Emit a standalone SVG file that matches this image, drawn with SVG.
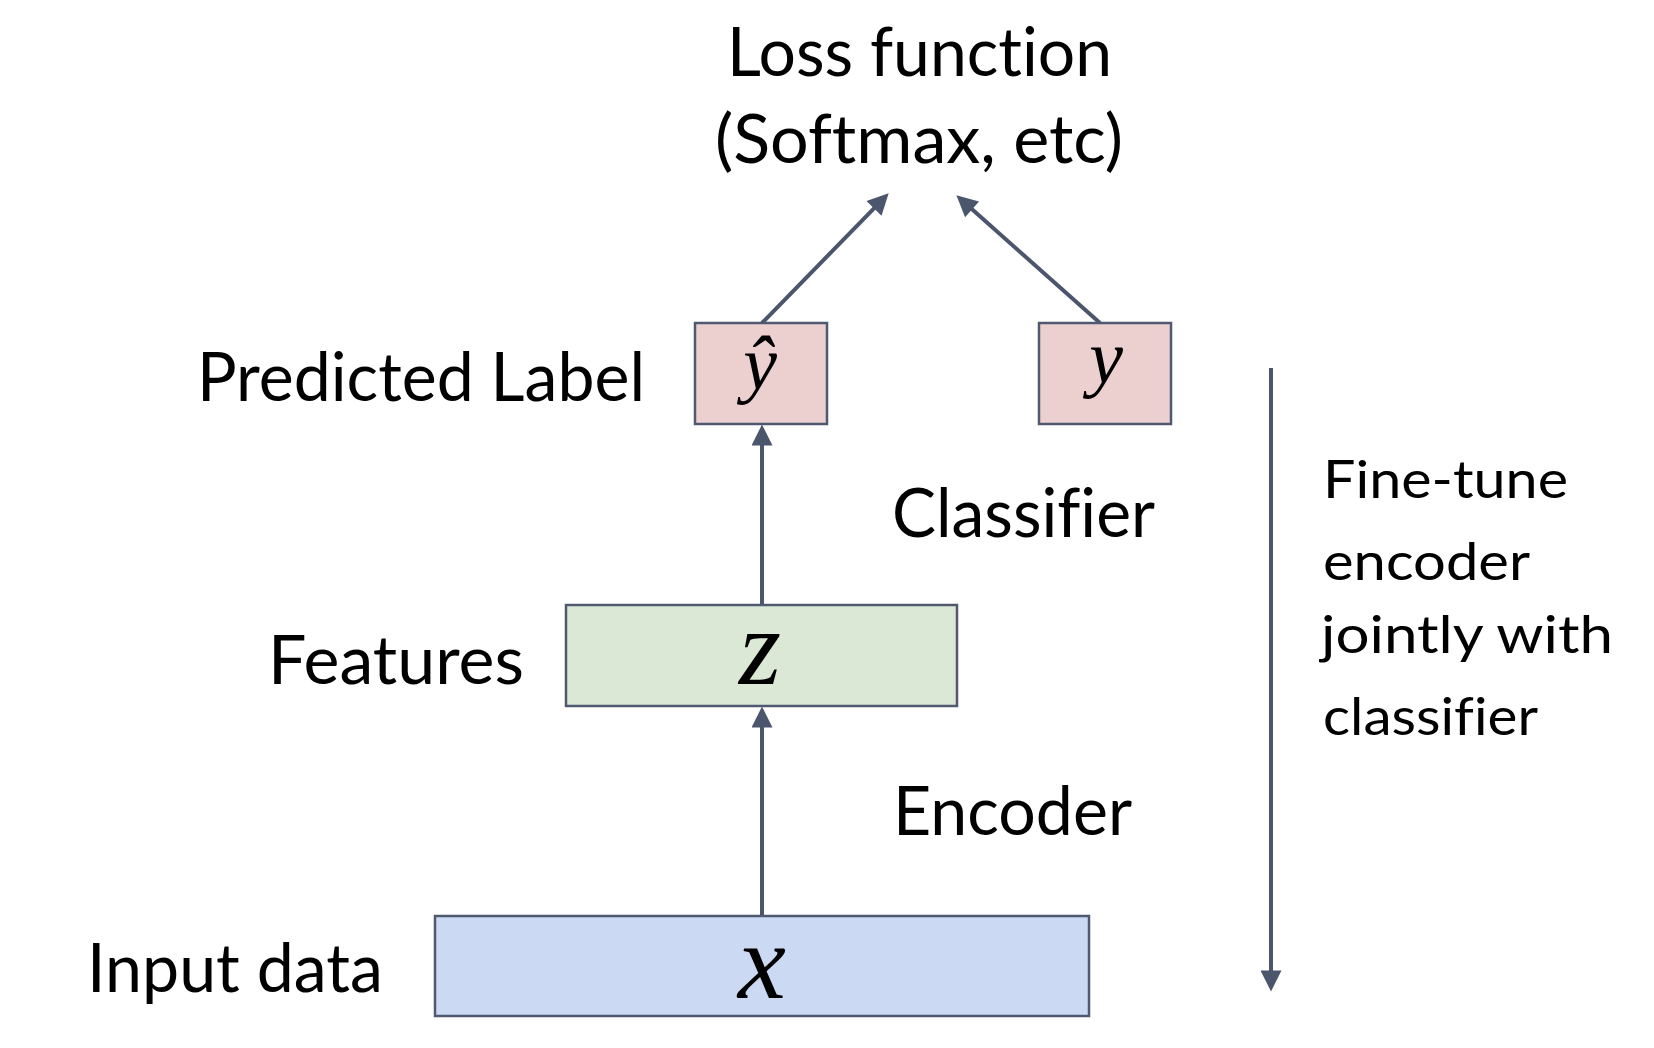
<svg xmlns="http://www.w3.org/2000/svg" width="1654" height="1048" viewBox="0 0 1654 1048">
  <style>
    .lbl { font-family: Lato, "Liberation Sans", sans-serif; font-size: 67px; fill: #000; font-variant-ligatures: none; font-feature-settings: "liga" 0, "clig" 0; }
    .side { font-family: Lato, "Liberation Sans", sans-serif; font-size: 53px; fill: #000; font-variant-ligatures: none; font-feature-settings: "liga" 0, "clig" 0; }
    .math { font-family: "Liberation Serif", "DejaVu Serif", serif; font-style: italic; fill: #000; text-anchor: middle; }
    .box { stroke: #4f5a70; stroke-width: 2.5; }
    .conn { stroke: #4b566d; stroke-width: 4; fill: none; marker-end: url(#ah); }
  </style>
  <defs>
    <marker id="ah" viewBox="0 0 10 10" markerWidth="23" markerHeight="21" markerUnits="userSpaceOnUse" refX="4.5" refY="5" orient="auto">
      <path d="M0,0 L10,5 L0,10 Z" fill="#4b566d"/>
    </marker>
  </defs>
  <rect width="1654" height="1048" fill="#fff"/>

  <g id="connectors">
    <line class="conn" x1="762" y1="323" x2="880.6" y2="201.6"/>
    <line class="conn" x1="1100" y1="323" x2="965" y2="203"/>
    <line class="conn" x1="762" y1="605" x2="762" y2="436"/>
    <line class="conn" x1="762" y1="916" x2="762" y2="718"/>
    <line class="conn" x1="1271" y1="368" x2="1271" y2="980"/>
  </g>

  <g id="loss">
    <text class="lbl" x="727" y="76" textLength="385" lengthAdjust="spacingAndGlyphs">Loss function</text>
    <text class="lbl" x="715" y="163" textLength="408" lengthAdjust="spacingAndGlyphs">(Softmax, etc)</text>
  </g>

  <g id="pred">
    <rect class="box" x="695" y="323" width="132" height="101" fill="#ecd0cf"/>
    <text class="math" x="760" y="389" font-size="76">ŷ</text>
  </g>
  <text class="lbl" x="197" y="401" textLength="448" lengthAdjust="spacingAndGlyphs">Predicted Label</text>

  <g id="truth">
    <rect class="box" x="1039" y="323" width="132" height="101" fill="#ecd0cf"/>
    <text class="math" x="1106" y="383" font-size="76">y</text>
  </g>

  <text class="lbl" x="892" y="537" textLength="263" lengthAdjust="spacingAndGlyphs">Classifier</text>

  <g id="features">
    <rect class="box" x="566" y="605" width="391" height="101" fill="#dce8d6"/>
    <text class="math" x="760" y="684" font-size="108">z</text>
  </g>
  <text class="lbl" x="268" y="684" textLength="256" lengthAdjust="spacingAndGlyphs">Features</text>

  <text class="lbl" x="893" y="835" textLength="239" lengthAdjust="spacingAndGlyphs">Encoder</text>

  <g id="input">
    <rect class="box" x="435" y="916" width="654" height="100" fill="#cbd9f2"/>
    <text class="math" x="762" y="998" font-size="108">x</text>
  </g>
  <text class="lbl" x="87" y="992" textLength="296" lengthAdjust="spacingAndGlyphs">Input data</text>

  <g id="finetune">
    <text class="side" x="1323" y="498" textLength="245" lengthAdjust="spacingAndGlyphs">Fine-tune</text>
    <text class="side" x="1323" y="580" textLength="207" lengthAdjust="spacingAndGlyphs">encoder</text>
    <text class="side" x="1321" y="653" textLength="292" lengthAdjust="spacingAndGlyphs">jointly with</text>
    <text class="side" x="1323" y="735" textLength="215" lengthAdjust="spacingAndGlyphs">classifier</text>
  </g>
</svg>
